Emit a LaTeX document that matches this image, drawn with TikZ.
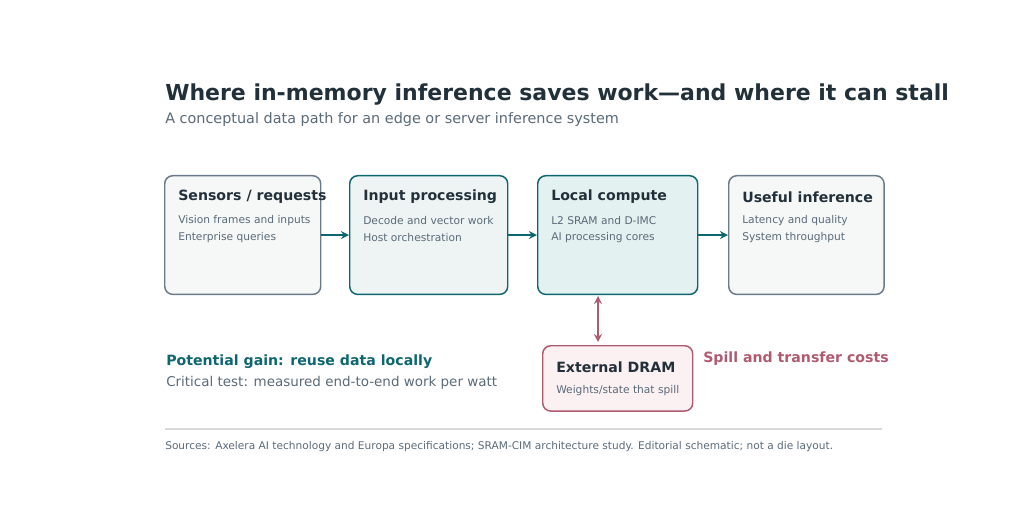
\documentclass[tikz,border=0pt]{standalone}
\usepackage{fontspec}
\setmainfont{DejaVu Sans}
\usetikzlibrary{arrows.meta}
\definecolor{ink}{HTML}{22303A}
\definecolor{mute}{HTML}{5A6A78}
\definecolor{teal}{HTML}{0E6670}
\definecolor{rose}{HTML}{B05A70}
\definecolor{gbord}{HTML}{6A7A88}
\definecolor{f1}{HTML}{F6F8F8}
\definecolor{f2}{HTML}{EEF4F4}
\definecolor{f3}{HTML}{E3F2F0}
\definecolor{fd}{HTML}{FBF0F2}
\begin{document}
\begin{tikzpicture}[x=0.75pt,y=-0.75pt,
 box/.style={draw,rounded corners=6pt,line width=1.1pt,anchor=north west,inner sep=0pt},
 ttl/.style={anchor=west,inner xsep=0pt,font=\fontsize{10.6}{13}\selectfont\bfseries,text=ink},
 body/.style={anchor=west,inner xsep=0pt,font=\fontsize{8}{10}\selectfont,text=mute},
 arr/.style={-{Stealth[length=6pt,width=6pt]},line width=1.3pt,draw=teal}]
\useasboundingbox (0,0) rectangle (1024,524);
\node[anchor=west,inner xsep=0pt,font=\fontsize{16.5}{20}\selectfont\bfseries,text=ink] (title) at (165,95) {Where in-memory inference saves work—and where it can stall};
\node[anchor=west,inner xsep=0pt,font=\fontsize{10.8}{14}\selectfont,text=mute] (sub) at (165,120) {A conceptual data path for an edge or server inference system};

\node[box,draw=gbord,fill=f1,minimum width=117pt,minimum height=89pt] (b1) at (164,175) {};
\node[box,draw=teal,fill=f2,minimum width=118.5pt,minimum height=89pt] (b2) at (349,175) {};
\node[box,draw=teal,fill=f3,minimum width=120pt,minimum height=89pt] (b3) at (537,175) {};
\node[box,draw=gbord,fill=f1,minimum width=116.5pt,minimum height=89pt] (b4) at (728,175) {};
\node[box,draw=rose,fill=fd,minimum width=112.5pt,minimum height=49pt] (dr) at (542,345) {};

\node[ttl] (t1) at (178,197) {Sensors / requests};
\node[body] (s1a) at (178,221) {Vision frames and inputs};
\node[body] (s1b) at (178,238) {Enterprise queries};
\node[ttl] (t2) at (363,197) {Input processing};
\node[body] (s2a) at (363,221) {Decode and vector work};
\node[body] (s2b) at (363,238) {Host orchestration};
\node[ttl] (t3) at (551,197) {Local compute};
\node[body] (s3a) at (551,221) {L2 SRAM and D-IMC};
\node[body] (s3b) at (551,238) {AI processing cores};
\node[ttl] (t4) at (742,197) {Useful inference};
\node[body] (s4a) at (742,221) {Latency and quality};
\node[body] (s4b) at (742,238) {System throughput};
\node[ttl] (td) at (556,367) {External DRAM};
\node[body] (sd) at (556,391) {Weights/state that spill};

\draw[arr] (b1.east) -- (b2.west);
\draw[arr] (b2.east) -- (b3.west);
\draw[arr] (b3.east) -- (b4.west);
\coordinate (ua) at (598,296); \coordinate (ub) at (598,342);
\draw[{Stealth[length=6pt,width=6pt]}-{Stealth[length=6pt,width=6pt]},line width=1.3pt,draw=rose] (ua) -- (ub);

\node[anchor=west,inner xsep=0pt,font=\fontsize{10.6}{13}\selectfont\bfseries,text=teal] (g) at (166,362) {Potential gain: reuse data locally};
\node[anchor=west,inner xsep=0pt,font=\fontsize{10.1}{13}\selectfont,text=mute] (c) at (166,383) {Critical test: measured end-to-end work per watt};
\node[anchor=west,inner xsep=0pt,font=\fontsize{10.6}{13}\selectfont\bfseries,text=rose] (sp) at (703,359) {Spill and transfer costs};

\coordinate (l1) at (165,429); \coordinate (l2) at (882,429);
\draw[gray!30,line width=0.8pt] (l1) -- (l2);
\node[anchor=west,inner xsep=0pt,font=\fontsize{7.95}{10}\selectfont,text=mute] (src) at (165,447) {Sources: Axelera AI technology and Europa specifications; SRAM-CIM architecture study. Editorial schematic; not a die layout.};
\end{tikzpicture}
\end{document}
